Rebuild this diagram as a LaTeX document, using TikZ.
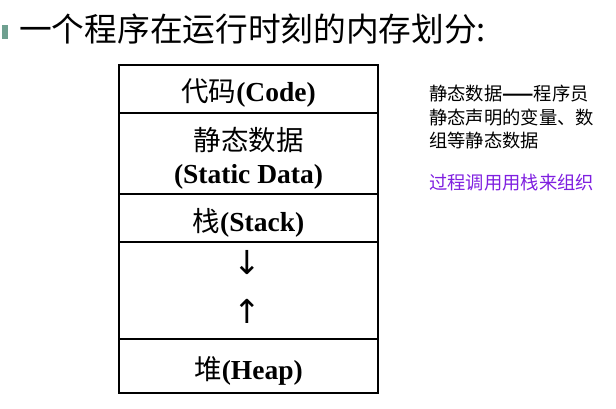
\documentclass[tikz,border=0pt]{standalone}
\usepackage{fontspec}
\setmainfont{Liberation Serif}
\newfontfamily\cjk{Noto Sans CJK SC}
\newfontfamily\arrowfont{DejaVu Sans}
\usetikzlibrary{positioning}
\definecolor{bulletgreen}{HTML}{6FA090}
\definecolor{notepurple}{HTML}{7F1FE0}
\newcommand{\zh}[1]{{\mdseries\cjk #1}}
\begin{document}
\begin{tikzpicture}[x=1pt,y=-1pt,
  cell/.style={draw,line width=1.5pt,minimum width=259pt,outer sep=0pt,inner sep=0pt},
  celltext/.style={align=center,inner sep=0pt,yshift=-4.5pt,font=\fontsize{27.5}{33}\selectfont\bfseries},
  arrowtext/.style={font=\arrowfont\fontsize{33}{33}\selectfont},
  note/.style={anchor=west,inner sep=0pt,font=\cjk\fontsize{18.3}{20}\selectfont}]
  \useasboundingbox (0,0) rectangle (616,409);
  % title line
  \node[fill=bulletgreen,minimum width=6pt,minimum height=14pt,inner sep=0pt] (bullet) at (5,32) {};
  \node[anchor=west,inner sep=0pt,font=\cjk\fontsize{32.7}{36}\selectfont] (title) at (19,29)
    {一个程序在运行时刻的内存划分:};
  % memory layout
  \node[cell,anchor=north,minimum height=48pt] (code) at (248.5,65) {};
  \node[cell,below=0pt of code,minimum height=81pt] (static) {};
  \node[cell,below=0pt of static,minimum height=48pt] (stack) {};
  \node[cell,below=0pt of stack,minimum height=97pt] (free) {};
  \node[cell,below=0pt of free,minimum height=54pt] (heap) {};
  \node[celltext] (codetext) at (code) {\zh{代码}(Code)};
  \node[celltext] (statictext) at (static) {\zh{静态数据}\\(Static Data)};
  \node[celltext] (stacktext) at (stack) {\zh{栈}(Stack)};
  \node[celltext] (heaptext) at (heap) {\zh{堆}(Heap)};
  \node[arrowtext] (down) at (247,263) {↓};
  \node[arrowtext] (up) at (247,311) {↑};
  % notes
  \node[note] (note1) at (429,94) {静态数据{\bfseries ——}程序员};
  \node[note] (note2) at (429,118) {静态声明的变量、数};
  \node[note] (note3) at (429,141) {组等静态数据};
  \node[note,text=notepurple] (note4) at (429,183) {过程调用用栈来组织};
\end{tikzpicture}
\end{document}
